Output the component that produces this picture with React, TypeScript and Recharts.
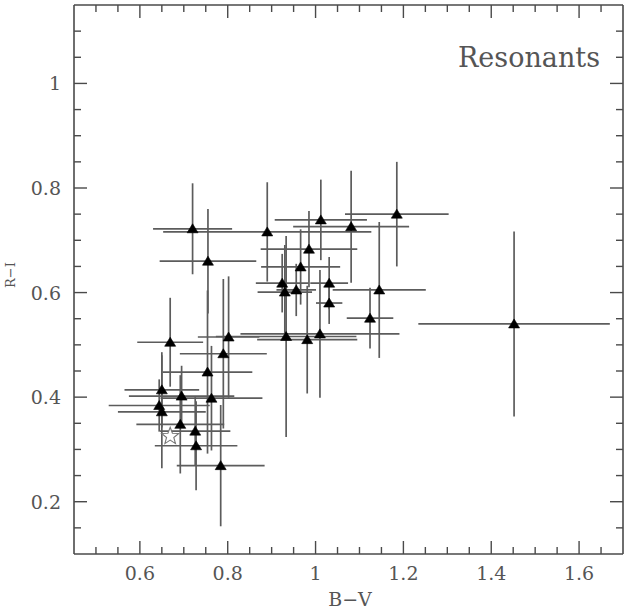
import React from 'react';
import { ScatterChart, Scatter, XAxis, YAxis, ErrorBar } from 'recharts';

// B-V colour of each resonant object
const bv = [
  0.72, 0.755, 0.89, 1.012, 1.081, 0.985, 0.966, 1.185, 1.145, 1.031, 1.031,
  0.924, 0.93, 0.956, 1.124, 0.933, 0.981, 1.01, 1.452, 0.669, 0.802, 0.79,
  0.754, 0.65, 0.695, 0.763, 0.644, 0.65, 0.692, 0.726, 0.728, 0.784,
];
// R-I colour of each resonant object
const ri = [
  0.722, 0.66, 0.716, 0.739, 0.726, 0.683, 0.649, 0.75, 0.605, 0.618, 0.58,
  0.618, 0.601, 0.605, 0.551, 0.516, 0.51, 0.521, 0.54, 0.505, 0.515, 0.483,
  0.448, 0.414, 0.402, 0.398, 0.384, 0.372, 0.348, 0.335, 0.307, 0.269,
];
// 1-sigma uncertainties
const bvErr = [
  0.09, 0.11, 0.237, 0.105, 0.132, 0.11, 0.09, 0.118, 0.106, 0.043, 0.03,
  0.06, 0.062, 0.045, 0.053, 0.16, 0.114, 0.181, 0.218, 0.075, 0.07, 0.099,
  0.102, 0.085, 0.12, 0.116, 0.115, 0.1, 0.1, 0.08, 0.094, 0.1,
];
const riErr = [
  0.087, 0.1, 0.095, 0.077, 0.107, 0.073, 0.072, 0.1, 0.13, 0.05, 0.04,
  0.056, 0.09, 0.05, 0.058, 0.192, 0.103, 0.122, 0.177, 0.085, 0.116, 0.143,
  0.156, 0.072, 0.058, 0.1, 0.05, 0.108, 0.094, 0.065, 0.085, 0.116,
];

// Solar colours
const sunBV = [0.669];
const sunRI = [0.327];

const xDomain = [0.45, 1.7];
const yDomain = [0.1, 1.15];
const xTicks = [
  0.5, 0.55, 0.6, 0.65, 0.7, 0.75, 0.8, 0.85, 0.9, 0.95, 1, 1.05, 1.1, 1.15,
  1.2, 1.25, 1.3, 1.35, 1.4, 1.45, 1.5, 1.55, 1.6, 1.65,
];
const yTicks = [
  0.15, 0.2, 0.25, 0.3, 0.35, 0.4, 0.45, 0.5, 0.55, 0.6, 0.65, 0.7, 0.75, 0.8,
  0.85, 0.9, 0.95, 1, 1.05, 1.1,
];

const objects = bv.map((x, i) => ({ x, y: ri[i], ex: bvErr[i], ey: riErr[i] }));
const sun = sunBV.map((x, i) => ({ x, y: sunRI[i] }));

const FRAME = '#4a4a4a';
const TEXT = '#555';
const BAR = '#5c5c5c';
const FONT = '"DejaVu Serif", serif';
const MAJOR = 13;
const MINOR = 7;

const isMajor = (v: number) => Math.abs(v * 5 - Math.round(v * 5)) < 1e-6;

const BottomTick = (props: any) => {
  const { x, y, payload } = props;
  const v = payload.value as number;
  const major = isMajor(v);
  return (
    <g>
      <line x1={x} y1={y} x2={x} y2={y - (major ? MAJOR : MINOR)} stroke={FRAME} strokeWidth={1.4} />
      {major && (
        <text x={x} y={y + 26} textAnchor="middle" fontFamily={FONT} fontSize={19} fill={TEXT}>
          {String(v)}
        </text>
      )}
    </g>
  );
};

const TopTick = (props: any) => {
  const { x, y, payload } = props;
  const major = isMajor(payload.value);
  return <line x1={x} y1={y} x2={x} y2={y + (major ? MAJOR : MINOR)} stroke={FRAME} strokeWidth={1.4} />;
};

const LeftTick = (props: any) => {
  const { x, y, payload } = props;
  const v = payload.value as number;
  const major = isMajor(v);
  return (
    <g>
      <line x1={x} y1={y} x2={x + (major ? MAJOR : MINOR)} y2={y} stroke={FRAME} strokeWidth={1.4} />
      {major && (
        <text x={x - 13} y={y + 7} textAnchor="end" fontFamily={FONT} fontSize={19} fill={TEXT}>
          {String(v)}
        </text>
      )}
    </g>
  );
};

const RightTick = (props: any) => {
  const { x, y, payload } = props;
  const major = isMajor(payload.value);
  return <line x1={x} y1={y} x2={x - (major ? MAJOR : MINOR)} y2={y} stroke={FRAME} strokeWidth={1.4} />;
};

const Triangle = (props: any) => {
  const { cx, cy } = props;
  if (cx == null || cy == null) return null;
  const w = 5.5;
  return (
    <polygon
      points={`${cx - w},${cy + 4} ${cx + w},${cy + 4} ${cx},${cy - 5}`}
      fill="#000"
      stroke="#000"
      strokeWidth={0.6}
    />
  );
};

const Star = (props: any) => {
  const { cx, cy } = props;
  if (cx == null || cy == null) return null;
  const pts: string[] = [];
  const R = 9;
  const r = 3.8;
  for (let k = 0; k < 10; k++) {
    const a = -Math.PI / 2 + (k * Math.PI) / 5;
    const rad = k % 2 === 0 ? R : r;
    pts.push(`${cx + rad * Math.cos(a)},${cy + 1 + rad * Math.sin(a)}`);
  }
  return <polygon points={pts.join(' ')} fill="#fff" stroke="#777" strokeWidth={1.1} />;
};

export default function App() {
  return (
    <div style={{ position: 'absolute', left: 0, top: 0, width: 626, height: 609, background: '#fff' }}>
      <ScatterChart width={626} height={609} margin={{ top: 4, right: 2, bottom: 54, left: 73 }}>
        <XAxis
          type="number"
          dataKey="x"
          domain={xDomain}
          ticks={xTicks}
          interval={0}
          allowDataOverflow
          height={1}
          tickSize={0}
          tickMargin={0}
          tickLine={false}
          tick={<BottomTick />}
          axisLine={{ stroke: FRAME, strokeWidth: 1.6 }}
        />
        <XAxis
          xAxisId="top"
          orientation="top"
          type="number"
          dataKey="x"
          domain={xDomain}
          ticks={xTicks}
          interval={0}
          allowDataOverflow
          height={1}
          tickSize={0}
          tickMargin={0}
          tickLine={false}
          tick={<TopTick />}
          axisLine={{ stroke: FRAME, strokeWidth: 1.6 }}
        />
        <YAxis
          type="number"
          dataKey="y"
          domain={yDomain}
          ticks={yTicks}
          interval={0}
          allowDataOverflow
          width={1}
          tickSize={0}
          tickMargin={0}
          tickLine={false}
          tick={<LeftTick />}
          axisLine={{ stroke: FRAME, strokeWidth: 1.6 }}
        />
        <YAxis
          yAxisId="right"
          orientation="right"
          type="number"
          dataKey="y"
          domain={yDomain}
          ticks={yTicks}
          interval={0}
          allowDataOverflow
          width={1}
          tickSize={0}
          tickMargin={0}
          tickLine={false}
          tick={<RightTick />}
          axisLine={{ stroke: FRAME, strokeWidth: 1.6 }}
        />
        <Scatter data={objects} shape={<Triangle />} isAnimationActive={false}>
          <ErrorBar dataKey="ex" direction="x" width={0} stroke={BAR} strokeWidth={1.7} isAnimationActive={false} />
          <ErrorBar dataKey="ey" direction="y" width={0} stroke={BAR} strokeWidth={1.7} isAnimationActive={false} />
        </Scatter>
        <Scatter data={sun} shape={<Star />} isAnimationActive={false} />
      </ScatterChart>
      <svg
        width={626}
        height={609}
        style={{ position: 'absolute', left: 0, top: 0, pointerEvents: 'none' }}
      >
        <text x={600} y={67} textAnchor="end" fontFamily={FONT} fontSize={27} fill={TEXT}>
          Resonants
        </text>
        <text x={350} y={606} textAnchor="middle" fontFamily={FONT} fontSize={19} fill={TEXT}>
          B−V
        </text>
        <text
          x={15}
          y={275}
          textAnchor="middle"
          fontFamily={FONT}
          fontSize={13}
          fill={TEXT}
          transform="rotate(-90 15 275)"
        >
          R−I
        </text>
      </svg>
    </div>
  );
}
